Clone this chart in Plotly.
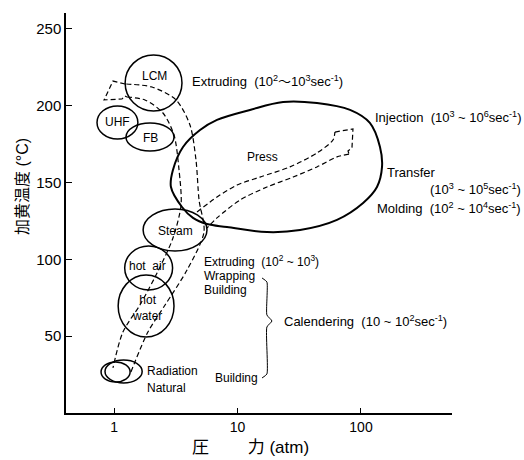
import numpy as np
import plotly.graph_objects as go

# ---------------- data ----------------
# processing regions drawn as ellipses: pressure range (atm) and temperature range (°C)
region_names = ["LCM", "UHF", "FB", "Steam", "hot air", "hot water", "Radiation", "Natural"]
region_p_lo = [1.23, 0.728, 1.25, 1.72, 1.22, 1.08, 0.785, 0.845]
region_p_hi = [3.55, 1.56, 3.06, 5.66, 2.98, 3.06, 1.35, 1.69]
region_t_lo = [196.6, 178.4, 170.6, 105.5, 80.1, 49.5, 20.2, 19.5]
region_t_hi = [233.1, 199.9, 188.8, 132.8, 108.7, 89.8, 33.2, 34.5]

# injection / transfer / compression molding region outline
blob_p = [2.89, 3.0, 3.62, 4.97, 6.82, 12.6, 23.4, 44.0, 81.5, 118, 142.5, 148, 134.7,
          104, 63.9, 32.1, 17.3, 8.22, 5.66, 4.36, 3.55, 2.89]
blob_t = [147.1, 158.2, 173.2, 184.2, 190.8, 197.3, 202.5, 201.8, 197.3, 188.8, 173.2,
          160.2, 147.1, 136.7, 125.7, 119.1, 117.8, 121.1, 123.0, 127.0, 134.1, 147.1]

# extruding route: outer edge, arrow head, inner edge
extr_outer_p = [1.37, 1.88, 2.59, 3.90, 5.35, 4.88, 4.61, 4.12, 3.18, 2.03, 1.23]
extr_outer_t = [26.7, 52.7, 70.3, 93.1, 117.8, 138.7, 164.7, 187.5, 203.8, 212.2, 214.2]
extr_head_p = [1.23, 0.98, 0.83, 1.16, 1.22, 1.27]
extr_head_t = [214.2, 216.1, 203.8, 204.4, 206.5, 205.7]
extr_inner_p = [1.27, 1.78, 2.49, 3.06, 3.36, 3.49, 3.0, 2.23, 1.62, 1.18, 0.98]
extr_inner_t = [205.7, 203.8, 195.3, 181.0, 158.2, 135.4, 113.9, 91.1, 70.3, 52.7, 29.3]

# press route: upper edge, arrow head, lower edge
press_upper_p = [4.70, 6.82, 9.91, 15.2, 26.6, 44.0, 59.3, 61.5]
press_upper_t = [130.9, 140.6, 148.4, 153.6, 160.2, 169.3, 177.7, 182.9]
press_head_p = [61.5, 86.1, 84.5, 78.5, 80.0]
press_head_t = [182.9, 184.9, 172.5, 170.6, 168.5]
press_lower_p = [80.0, 63.9, 44.0, 28.2, 17.3, 10.5, 6.82, 5.66]
press_lower_t = [168.5, 166.7, 160.2, 153.6, 147.1, 138.7, 127.0, 120.4]

# brace grouping the calendering items
brace_p = [15.8, 17.3, 17.3, 19.0, 17.3, 17.3, 15.8]
brace_t = [87.9, 85.3, 63.8, 59.9, 56.0, 25.4, 22.8]

x_tick_vals = [1, 10, 100]
x_tick_text = ["1", "10", "100"]
y_tick_vals = [50, 100, 150, 200, 250]
y_tick_text = ["50", "100", "150", "200", "250"]

# ---------------- figure ----------------
FONT = "Liberation Sans, Noto Sans CJK JP, sans-serif"
fig = go.Figure()


def curve(px, ty, width=1.2, dash="5px,3px", shape="spline", smoothing=0.8):
    fig.add_trace(go.Scatter(x=px, y=ty, mode="lines",
                             line=dict(color="black", width=width, dash=dash,
                                       shape=shape, smoothing=smoothing if shape == "spline" else None),
                             hoverinfo="skip", showlegend=False))


curve(blob_p, blob_t, width=2, dash="solid", smoothing=1.0)
curve(extr_outer_p, extr_outer_t)
curve(extr_head_p, extr_head_t, shape="linear")
curve(extr_inner_p, extr_inner_t)
curve(press_upper_p, press_upper_t)
curve(press_head_p, press_head_t, shape="linear")
curve(press_lower_p, press_lower_t)
curve(brace_p, brace_t, width=1, dash="solid", smoothing=0.5)

for i in range(len(region_names)):
    fig.add_shape(type="circle", xref="x", yref="y",
                  x0=region_p_lo[i], x1=region_p_hi[i],
                  y0=region_t_lo[i], y1=region_t_hi[i],
                  line=dict(color="black", width=1.5))


def note(text, p, t, anchor="center", size=13):
    fig.add_annotation(x=np.log10(p), y=t, xref="x", yref="y", text=text,
                       showarrow=False, xanchor=anchor, yanchor="middle",
                       font=dict(family=FONT, size=size, color="black"))


note("LCM", 2.11, 219.4, size=12)
note("UHF", 1.06, 189.5, size=12)
note("FB", 1.99, 179, size=12)
note("Steam", 3.12, 118.5, size=12)
note("hot  air", 1.88, 95.7, size=12)
note("hot<br>water", 1.85, 68.4, size=12)
note("Radiation", 1.78, 27.3, "left", size=12)
note("Natural", 1.78, 16.3, "left", size=12)
note("Press", 15.8, 166.7, size=12)
note("Extruding  (10<sup>2</sup>〜10<sup>3</sup>sec<sup>-1</sup>)", 4.12, 216.1, "left")
note("Injection  (10<sup>3</sup> ~ 10<sup>6</sup>sec<sup>-1</sup>)", 125, 192.7, "left")
note("Transfer", 156, 156.3, "left")
note("(10<sup>3</sup> ~ 10<sup>5</sup>sec<sup>-1</sup>)", 349, 145.8, "left")
note("Molding  (10<sup>2</sup> ~ 10<sup>4</sup>sec<sup>-1</sup>)", 130, 133.5, "left")
note("Extruding  (10<sup>2</sup> ~ 10<sup>3</sup>)", 5.16, 98.8, "left", size=12)
note("Wrapping", 5.16, 89.4, "left", size=12)
note("Building", 5.16, 80.1, "left", size=12)
note("Calendering  (10 ~ 10<sup>2</sup>sec<sup>-1</sup>)", 22.9, 59.9, "left")
note("Building", 6.33, 22.8, "left", size=12)

fig.add_annotation(x=0.479, y=-0.085, xref="paper", yref="paper",
                   xanchor="center", yanchor="middle",
                   text="圧　　 力 (atm)", showarrow=False,
                   font=dict(family=FONT, size=17, color="black"))
fig.add_annotation(x=-0.114, y=0.5675, xref="paper", yref="paper",
                   xanchor="center", yanchor="middle",
                   text="加黄温度 (°C)", textangle=-90, showarrow=False,
                   font=dict(family=FONT, size=16, color="black"))

fig.update_xaxes(type="log", range=[-0.389, 2.737],
                 tickvals=x_tick_vals, ticktext=x_tick_text,
                 showline=True, linecolor="black", linewidth=1.5,
                 ticks="inside", ticklen=5, tickcolor="black",
                 showgrid=False, zeroline=False,
                 tickfont=dict(family=FONT, size=14, color="black"))
fig.update_yaxes(range=[0, 260.4],
                 tickvals=y_tick_vals, ticktext=y_tick_text,
                 showline=True, linecolor="black", linewidth=1.5,
                 ticks="inside", ticklen=6, tickcolor="black",
                 showgrid=False, zeroline=False,
                 tickfont=dict(family=FONT, size=15, color="black"))

fig.update_layout(width=524, height=460,
                  margin=dict(l=66, r=72, t=13, b=47),
                  paper_bgcolor="white", plot_bgcolor="white",
                  showlegend=False)

fig.write_html("out.html")
